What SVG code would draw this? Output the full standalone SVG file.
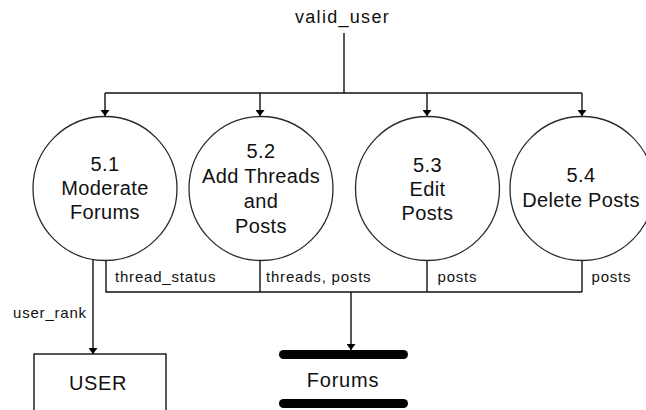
<svg xmlns="http://www.w3.org/2000/svg" width="646" height="410" viewBox="0 0 646 410">
<style>
.proc { fill: #ffffff; stroke: #2a2a2a; stroke-width: 1.3; }
.node { font-family: "Liberation Sans", Arial, sans-serif; font-size: 20px; fill: #111; text-anchor: middle; letter-spacing: 0.35px; }
.lbl { font-family: "Liberation Sans", Arial, sans-serif; font-size: 15px; fill: #111; letter-spacing: 0.8px; }
.flow { fill: none; stroke: #111; stroke-width: 1.4; }
.bar { stroke: #000; stroke-width: 9; stroke-linecap: round; }
</style>
<defs>
<marker id="arr" viewBox="0 0 6 9" refX="6" refY="4.5" markerWidth="6" markerHeight="9" markerUnits="userSpaceOnUse" orient="auto">
<path d="M0,0 L6,4.5 L0,9 z" fill="#000"/>
</marker>
</defs>

<text class="node" x="342.5" y="23" style="font-size:18px; letter-spacing:1.3px">valid_user</text>

<g id="connectors">
<path class="flow" d="M344,33 V93"/>
<path class="flow" d="M105,93 H582"/>
<path class="flow" d="M105,93 V116" marker-end="url(#arr)"/>
<path class="flow" d="M260,93 V116" marker-end="url(#arr)"/>
<path class="flow" d="M427,93 V116" marker-end="url(#arr)"/>
<path class="flow" d="M582,93 V116" marker-end="url(#arr)"/>
<path class="flow" d="M106,260 V292 H582"/>
<path class="flow" d="M260,260 V292"/>
<path class="flow" d="M427,260 V292"/>
<path class="flow" d="M582,260 V292"/>
<path class="flow" d="M351,292 V350" marker-end="url(#arr)"/>
<path class="flow" d="M93,259 V354" marker-end="url(#arr)"/>
<text class="lbl" x="115" y="282">thread_status</text>
<text class="lbl" x="266" y="282">threads, posts</text>
<text class="lbl" x="437.5" y="282">posts</text>
<text class="lbl" x="591.5" y="282">posts</text>
<text class="lbl" x="13" y="318">user_rank</text>
</g>

<g id="p51">
<circle class="proc" cx="105" cy="188.5" r="72"/>
<text class="node" x="105" y="171">5.1</text>
<text class="node" x="105" y="195">Moderate</text>
<text class="node" x="105" y="219">Forums</text>
</g>

<g id="p52">
<circle class="proc" cx="261" cy="188.5" r="72"/>
<text class="node" x="261" y="158">5.2</text>
<text class="node" x="261" y="183">Add Threads</text>
<text class="node" x="261" y="208">and</text>
<text class="node" x="261" y="233">Posts</text>
</g>

<g id="p53">
<circle class="proc" cx="427.5" cy="188.5" r="72"/>
<text class="node" x="427.5" y="172">5.3</text>
<text class="node" x="427.5" y="196">Edit</text>
<text class="node" x="427.5" y="220">Posts</text>
</g>

<g id="p54">
<circle class="proc" cx="582" cy="188.5" r="72"/>
<text class="node" x="581" y="182">5.4</text>
<text class="node" x="581" y="207">Delete Posts</text>
</g>

<g id="user">
<rect x="34" y="354" width="132" height="80" fill="#fff" stroke="#111" stroke-width="1.4"/>
<text class="node" x="98" y="390" style="letter-spacing:0.6px">USER</text>
</g>

<g id="forums">
<line class="bar" x1="283.5" y1="354.5" x2="403.5" y2="354.5"/>
<line class="bar" x1="283.5" y1="403.5" x2="403.5" y2="403.5"/>
<text class="node" x="343" y="387" style="letter-spacing:0.8px">Forums</text>
</g>
</svg>
